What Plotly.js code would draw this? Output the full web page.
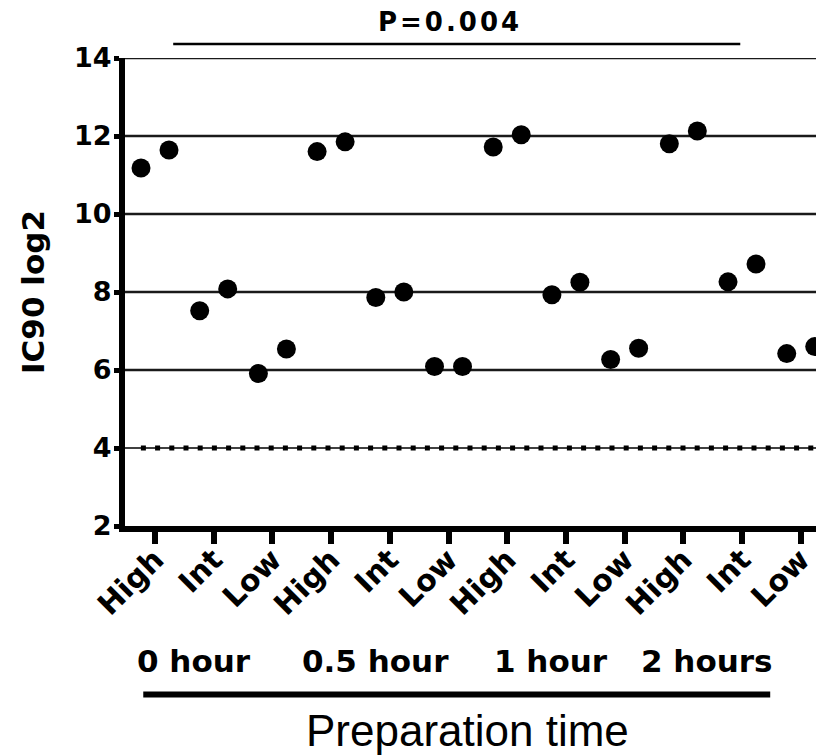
<!DOCTYPE html>
<html>
<head>
<meta charset="utf-8">
<script src="https://cdn.plot.ly/plotly-3.0.1.min.js"></script>
<style>
  html, body { margin: 0; padding: 0; background: #fff; overflow: hidden; }
  #chart { width: 816px; height: 756px; }
  .ytick text, .xtick text, .ytitle { font-weight: 700 !important; }
  .annotation-text { font-weight: 700 !important; }
  text[data-unformatted="Preparation time"] { font-weight: 400 !important; }
  text[data-unformatted="P=0.004"] { letter-spacing: 3px; }
</style>
</head>
<body>
<div id="chart"></div>
<script>
// ---- data ----
const groups = ['0 hour', '0.5 hour', '1 hour', '2 hours'];
const levels = ['High', 'Int', 'Low'];
const tickLabels = ['High', 'Int', 'Low', 'High', 'Int', 'Low', 'High', 'Int', 'Low', 'High', 'Int', 'Low'];
const replicate1 = [11.18, 7.52, 5.91, 11.60, 7.86, 6.09, 11.72, 7.93, 6.27, 11.80, 8.26, 6.42];
const replicate2 = [11.64, 8.08, 6.54, 11.85, 8.00, 6.09, 12.03, 8.25, 6.56, 12.13, 8.72, 6.60];
const yTicks = [2, 4, 6, 8, 10, 12, 14];
const solidGrid = [6, 8, 10, 12, 14];
const cutoff = 4;
const pLabel = 'P=0.004';
const xTitle = 'Preparation time';
const yTitle = 'IC90 log2';
const groupLabelPos = [0.66, 3.75, 6.75, 9.4];

// ---- build ----
const idx = tickLabels.map((_, i) => i);
const off = 0.2385;
const marker = { color: '#000', size: 19, line: { width: 0 } };
const BOLD = 'DejaVu Sans, Verdana, sans-serif';

const traces = [
  { type: 'scatter', mode: 'markers', x: idx.map(i => i - off), y: replicate1, marker, hoverinfo: 'y', cliponaxis: true },
  { type: 'scatter', mode: 'markers', x: idx.map(i => i + off), y: replicate2, marker, hoverinfo: 'y', cliponaxis: true }
];

const shapes = [];
solidGrid.forEach(v => shapes.push({
  type: 'line', xref: 'paper', yref: 'y', x0: 0, x1: 1, y0: v, y1: v,
  line: { color: '#1a1a1a', width: 2.5 }, layer: 'below'
}));
shapes.push({ type: 'line', xref: 'paper', yref: 'y', x0: 0, x1: 1, y0: cutoff, y1: cutoff,
  line: { color: '#000', width: 1.5 }, layer: 'below' });
shapes.push({ type: 'line', xref: 'paper', yref: 'y', x0: 0.023, x1: 1, y0: cutoff, y1: cutoff,
  line: { color: '#000', width: 5, dash: '5px,9.2px' }, layer: 'below' });
// significance bar
shapes.push({ type: 'line', xref: 'x', yref: 'paper', x0: 0.31, x1: 9.97, y0: 1.03, y1: 1.03,
  line: { color: '#000', width: 2.5 } });
// group underline
shapes.push({ type: 'line', xref: 'x', yref: 'paper', x0: -0.2, x1: 10.48, y0: -0.36, y1: -0.36,
  line: { color: '#000', width: 6 } });

const annotations = [];
annotations.push({ text: pLabel, xref: 'x', yref: 'paper', x: 5.03, y: 1.077, showarrow: false,
  xanchor: 'center', yanchor: 'middle',
  font: { family: BOLD, size: 26, weight: 700, color: '#000' } });
groups.forEach((g, k) => annotations.push({ text: g, xref: 'x', yref: 'paper', x: groupLabelPos[k], y: -0.289,
  showarrow: false, xanchor: 'center', yanchor: 'middle',
  font: { family: BOLD, size: 31, weight: 700, color: '#000' } }));
annotations.push({ text: xTitle, xref: 'x', yref: 'paper', x: 5.33, y: -0.437, showarrow: false,
  xanchor: 'center', yanchor: 'middle',
  font: { family: 'Liberation Sans, Arial', size: 44, weight: 400, color: '#000' } });

const layout = {
  width: 816, height: 756,
  margin: { l: 125, r: 0, t: 58, b: 230, pad: 0 },
  paper_bgcolor: '#fff', plot_bgcolor: '#fff',
  showlegend: false,
  xaxis: {
    range: [-0.511, 11.26], tickvals: idx, ticktext: tickLabels, tickangle: -45,
    showgrid: false, zeroline: false, showline: true, linecolor: '#000', linewidth: 6,
    ticks: 'outside', ticklen: 12, tickwidth: 6, tickcolor: '#000', ticklabelstandoff: -14,
    ticklabeloverflow: 'allow',
    tickfont: { family: BOLD, size: 30, weight: 700, color: '#000' }
  },
  yaxis: {
    range: [2, 14], tickvals: yTicks,
    showgrid: false, zeroline: false, showline: true, linecolor: '#000', linewidth: 6,
    ticks: 'outside', ticklen: 5, tickwidth: 5, tickcolor: '#000', ticklabelstandoff: -3,
    ticklabeloverflow: 'allow',
    tickfont: { family: BOLD, size: 27, weight: 700, color: '#000' },
    title: { text: yTitle, standoff: 22, font: { family: BOLD, size: 31, weight: 700, color: '#000' } }
  },
  shapes, annotations
};

Plotly.newPlot('chart', traces, layout, { displayModeBar: false, staticPlot: true });
</script>
</body>
</html>
